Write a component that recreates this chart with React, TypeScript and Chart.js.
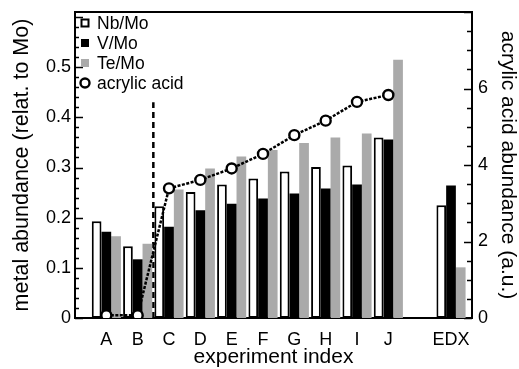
import React, { useEffect, useRef } from 'react';
import { Chart, registerables } from 'chart.js';

Chart.register(...registerables);

// ---- data ----
const categories = ['A', 'B', 'C', 'D', 'E', 'F', 'G', 'H', 'I', 'J', '', 'EDX'];
const nbMo: (number | null)[] = [0.193, 0.143, 0.223, 0.251, 0.266, 0.278, 0.292, 0.301, 0.304, 0.36, null, 0.225];
const vMo: (number | null)[] = [0.172, 0.117, 0.182, 0.215, 0.228, 0.238, 0.248, 0.258, 0.266, 0.356, null, 0.264];
const teMo: (number | null)[] = [0.163, 0.148, 0.256, 0.298, 0.322, 0.335, 0.349, 0.36, 0.368, 0.515, null, 0.101];
const acrylicAcid: number[] = [0.07, 0.07, 3.39, 3.61, 3.91, 4.29, 4.78, 5.16, 5.65, 5.83];
const dividerX = 2.5; // between B and C
const dividerTop = 0.43;

const leftMax = 0.61;
const rightMax = 8;
const leftMajor = 0.1;
const leftMinor = 0.02;
const rightMajor = 2;
const rightMinor = 0.5;

const FONT = '"Liberation Sans", Arial, Helvetica, sans-serif';

const toXY = (arr: (number | null)[]) =>
  arr
    .map((v, i) => ({ x: i + 1, y: v }))
    .filter((p) => p.y !== null) as { x: number; y: number }[];

const frameTicksPlugin = {
  id: 'frameTicks',
  beforeDatasetsDraw(chart: any) {
    const { ctx, chartArea: a, scales } = chart;
    ctx.save();
    ctx.strokeStyle = '#000';
    ctx.lineWidth = 2;
    ctx.strokeRect(a.left, a.top, a.right - a.left, a.bottom - a.top);
    ctx.lineWidth = 1.5;
    const yl = scales.y;
    const nL = Math.round(leftMax / leftMinor);
    const perL = Math.round(leftMajor / leftMinor);
    for (let k = 0; k <= nL; k++) {
      const v = k * leftMinor;
      if (v > yl.max + 1e-9) break;
      const py = Math.round(yl.getPixelForValue(v)) + 0.5;
      const len = k % perL === 0 ? 8 : 4;
      ctx.beginPath();
      ctx.moveTo(a.left, py);
      ctx.lineTo(a.left + len, py);
      ctx.stroke();
    }
    const yr = scales.y2;
    const nR = Math.round(rightMax / rightMinor);
    const perR = Math.round(rightMajor / rightMinor);
    for (let k = 0; k <= nR; k++) {
      const v = k * rightMinor;
      const py = Math.round(yr.getPixelForValue(v)) + 0.5;
      const len = k % perR === 0 ? 8 : 5;
      ctx.beginPath();
      ctx.moveTo(a.right, py);
      ctx.lineTo(a.right - len, py);
      ctx.stroke();
    }
    ctx.restore();
  },
};

const insideLegendPlugin = {
  id: 'insideLegend',
  afterDraw(chart: any) {
    const { ctx, chartArea: a } = chart;
    const items = chart.data.datasets.filter((d: any) => d.label);
    ctx.save();
    ctx.font = `17.5px ${FONT}`;
    ctx.textBaseline = 'middle';
    ctx.textAlign = 'left';
    items.forEach((d: any, i: number) => {
      const cy = a.top + 11 + i * 20;
      const cx = a.left + 10;
      if (d.type === 'line') {
        ctx.beginPath();
        ctx.arc(cx, cy, 4.5, 0, Math.PI * 2);
        ctx.fillStyle = '#fff';
        ctx.fill();
        ctx.lineWidth = 2.4;
        ctx.strokeStyle = '#000';
        ctx.stroke();
      } else {
        ctx.fillStyle = d.backgroundColor;
        ctx.fillRect(cx - 4, cy - 4, 8, 8);
        if (d.borderWidth) {
          ctx.lineWidth = 2;
          ctx.strokeStyle = d.borderColor;
          ctx.strokeRect(cx - 3.5, cy - 3.5, 7, 7);
        }
      }
      ctx.fillStyle = '#000';
      ctx.fillText(d.label, a.left + 22, cy + 1);
    });
    ctx.restore();
  },
};

export default function App() {
  const ref = useRef<HTMLCanvasElement>(null);

  useEffect(() => {
    document.body.style.margin = '0';
    const canvas = ref.current;
    if (!canvas) return;
    const vFit = (w: number) => (s: any) => {
      s.width = w;
      s.paddingTop = 0;
      s.paddingBottom = 0;
    };
    const chart = new Chart(canvas, {
      type: 'bar',
      data: {
        datasets: [
          {
            type: 'bar',
            label: 'Nb/Mo',
            data: toXY(nbMo),
            backgroundColor: '#ffffff',
            borderColor: '#000000',
            borderWidth: 2,
            borderSkipped: false,
            yAxisID: 'y',
          },
          {
            type: 'bar',
            label: 'V/Mo',
            data: toXY(vMo),
            backgroundColor: '#000000',
            borderWidth: 0,
            yAxisID: 'y',
          },
          {
            type: 'bar',
            label: 'Te/Mo',
            data: toXY(teMo),
            backgroundColor: '#aaaaaa',
            borderWidth: 0,
            yAxisID: 'y',
          },
          {
            type: 'line',
            label: 'acrylic acid',
            data: toXY(acrylicAcid),
            yAxisID: 'y2',
            borderColor: '#000000',
            borderWidth: 2.5,
            borderDash: [3, 1.5],
            pointRadius: 5,
            pointBorderWidth: 2.4,
            pointBackgroundColor: '#ffffff',
            pointBorderColor: '#000000',
            order: -1,
          },
          {
            type: 'line',
            label: '',
            data: [
              { x: dividerX, y: 0 },
              { x: dividerX, y: dividerTop },
            ],
            yAxisID: 'y',
            borderColor: '#000000',
            borderWidth: 2.5,
            borderDash: [6, 4],
            pointRadius: 0,
          },
        ] as any,
      },
      options: {
        responsive: false,
        animation: false,
        datasets: {
          bar: { categoryPercentage: 0.93, barPercentage: 1.0 },
        },
        layout: { padding: { top: 12, left: 0, right: 0, bottom: 0 } },
        plugins: {
          legend: { display: false },
          tooltip: { enabled: false },
        },
        scales: {
          x: {
            type: 'linear',
            min: 0,
            max: 12.67,
            offset: false,
            grid: { display: false, drawTicks: false },
            border: { display: false },
            ticks: {
              stepSize: 1,
              autoSkip: false,
              maxRotation: 0,
              includeBounds: false,
              padding: 11,
              color: '#000',
              font: { family: FONT, size: 18 },
              callback: (v: any) => {
                const n = Number(v);
                if (!Number.isInteger(n) || n < 1) return '';
                return categories[n - 1] ?? '';
              },
            },
            title: {
              display: true,
              text: 'experiment index',
              color: '#000',
              font: { family: FONT, size: 21, lineHeight: 1 },
              padding: { top: 0, bottom: 1.5 },
            },
            afterFit: (s: any) => {
              s.height = 51;
              s.paddingLeft = 0;
              s.paddingRight = 0;
            },
          },
          y: {
            type: 'linear',
            position: 'left',
            min: 0,
            max: leftMax,
            grid: { display: false, drawTicks: false },
            border: { display: false },
            ticks: {
              stepSize: leftMajor,
              includeBounds: false,
              padding: 4,
              color: '#000',
              font: { family: FONT, size: 18 },
              callback: (v: any) => {
                const n = Number(v);
                if (n > 0.55) return '';
                return n === 0 ? '0' : n.toFixed(1);
              },
            },
            title: {
              display: true,
              text: 'metal abundance (relat. to Mo)',
              color: '#000',
              font: { family: FONT, size: 21.5, lineHeight: 1 },
              padding: { top: 11.5, bottom: 0 },
            },
            afterFit: vFit(75),
          },
          y2: {
            type: 'linear',
            position: 'right',
            min: 0,
            max: rightMax,
            grid: { display: false, drawTicks: false },
            border: { display: false },
            ticks: {
              stepSize: rightMajor,
              includeBounds: false,
              padding: 6,
              color: '#000',
              font: { family: FONT, size: 18 },
              callback: (v: any) => {
                const n = Number(v);
                if (n >= rightMax) return '';
                return String(n);
              },
            },
            title: {
              display: true,
              text: 'acrylic acid abundance (a.u.)',
              color: '#000',
              font: { family: FONT, size: 21, lineHeight: 1 },
              padding: { top: 0.5, bottom: 0 },
            },
            afterFit: vFit(47),
          },
        },
      } as any,
      plugins: [frameTicksPlugin, insideLegendPlugin],
    });
    return () => chart.destroy();
  }, []);

  return (
    <canvas
      ref={ref}
      width={519}
      height={369}
      style={{ display: 'block', width: 519, height: 369 }}
    />
  );
}
